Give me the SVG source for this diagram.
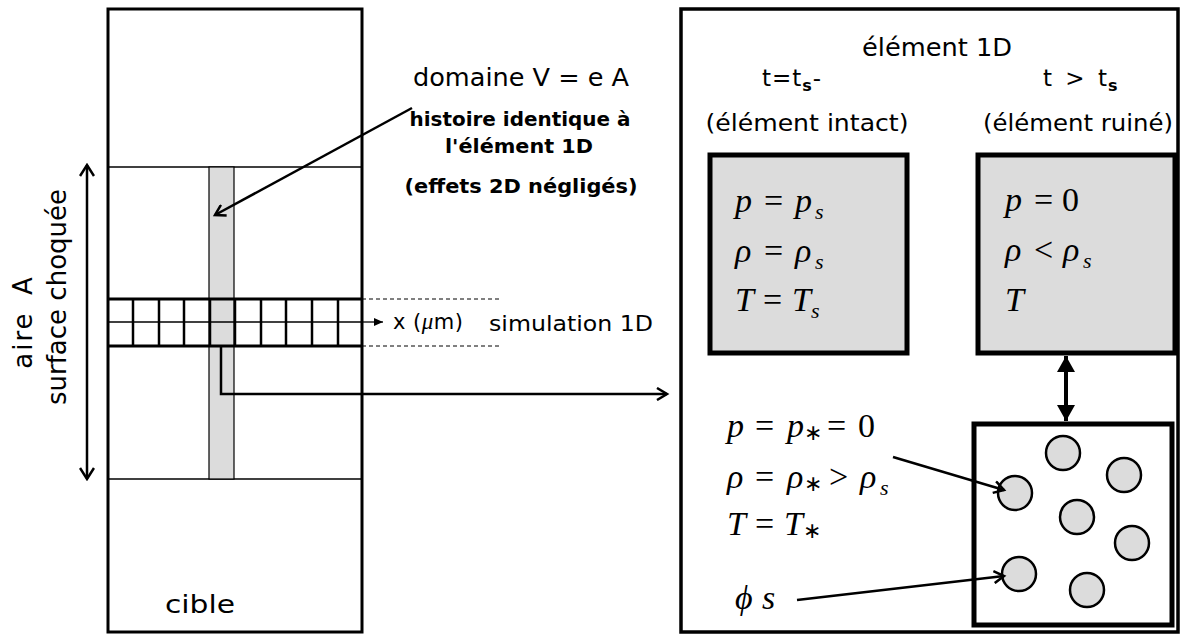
<svg xmlns="http://www.w3.org/2000/svg" width="1188" height="637" viewBox="0 0 1188 637">
<style>
.t{font-family:"DejaVu Sans",sans-serif;fill:#000}
.b{font-weight:bold}
.m{font-family:"Liberation Serif",serif;font-style:italic;font-size:34px;fill:#000}
.n{font-style:normal}
.sub{font-size:22px}
.thin{stroke:#000;stroke-width:1.3;fill:none}
.thick{stroke:#000;stroke-width:3;fill:none}
.conn{stroke:#000;stroke-width:2.5;fill:none}
</style>
<defs>
<marker id="open" markerWidth="14" markerHeight="14" refX="11" refY="7" orient="auto" markerUnits="userSpaceOnUse">
<path d="M1,1 L11,7 L1,13" fill="none" stroke="#000" stroke-width="2.5"/>
</marker>
<marker id="openS" markerWidth="14" markerHeight="16" refX="12" refY="8" orient="auto-start-reverse" markerUnits="userSpaceOnUse">
<path d="M1,1 L12,8 L1,15" fill="none" stroke="#000" stroke-width="2.5"/>
</marker>
<marker id="tri" markerWidth="10" markerHeight="10" refX="9" refY="5" orient="auto" markerUnits="userSpaceOnUse">
<path d="M0,1 L9,5 L0,9 Z" fill="#000"/>
</marker>
<marker id="big" markerWidth="20" markerHeight="20" refX="16" refY="10" orient="auto-start-reverse" markerUnits="userSpaceOnUse">
<path d="M0,1 L16,10 L0,19 Z" fill="#000"/>
</marker>
</defs>

<g id="cible">
<rect x="108" y="9" width="254" height="623" fill="#fff" stroke="#000" stroke-width="3"/>
<line class="thin" x1="109" y1="167" x2="361" y2="167"/>
<line class="thin" x1="109" y1="479" x2="361" y2="479"/>
<rect x="209" y="167" width="25" height="312" fill="#dcdcdc" stroke="#000" stroke-width="1.2"/>
<text class="t" x="200" y="613" font-size="25" text-anchor="middle" textLength="70" lengthAdjust="spacingAndGlyphs">cible</text>
</g>

<g id="grille">
<line class="thick" x1="108" y1="299" x2="362" y2="299"/>
<line class="thick" x1="108" y1="346" x2="362" y2="346"/>
<line class="thin" x1="108" y1="322" x2="362" y2="322"/>
<g stroke="#000" stroke-width="2.5">
<line x1="133" y1="299" x2="133" y2="346"/>
<line x1="159" y1="299" x2="159" y2="346"/>
<line x1="184" y1="299" x2="184" y2="346"/>
<line x1="210" y1="299" x2="210" y2="346"/>
<line x1="235" y1="299" x2="235" y2="346"/>
<line x1="261" y1="299" x2="261" y2="346"/>
<line x1="286" y1="299" x2="286" y2="346"/>
<line x1="312" y1="299" x2="312" y2="346"/>
<line x1="338" y1="299" x2="338" y2="346"/>
</g>
<line x1="362" y1="299" x2="500" y2="299" stroke="#000" stroke-width="1" stroke-dasharray="4,3"/>
<line x1="362" y1="346" x2="500" y2="346" stroke="#000" stroke-width="1" stroke-dasharray="4,3"/>
<text class="t" x="393" y="329" font-size="21" letter-spacing="0.5">x (<tspan font-family="Liberation Serif" font-style="italic" font-size="23">μ</tspan>m)</text>
<text class="t" x="489" y="331" font-size="21" textLength="164" lengthAdjust="spacingAndGlyphs">simulation 1D</text>
</g>

<g id="aire">
<text class="t" transform="translate(32,322) rotate(-90)" font-size="26" text-anchor="middle" letter-spacing="2" word-spacing="6">aire A</text>
<text class="t" transform="translate(66,297) rotate(-90)" font-size="26" text-anchor="middle">surface choquée</text>
</g>

<g id="domaine">
<text class="t" x="521" y="86" font-size="24" text-anchor="middle" textLength="216" lengthAdjust="spacingAndGlyphs">domaine V = e A</text>
<text class="t b" x="520" y="126" font-size="19" text-anchor="middle" textLength="221" lengthAdjust="spacingAndGlyphs">histoire identique à</text>
<text class="t b" x="519" y="153" font-size="19" text-anchor="middle" textLength="148" lengthAdjust="spacingAndGlyphs">l'élément 1D</text>
<text class="t b" x="521" y="193" font-size="19" text-anchor="middle" textLength="233" lengthAdjust="spacingAndGlyphs">(effets 2D négligés)</text>
</g>

<g id="element1D">
<rect x="681" y="9" width="497" height="623" fill="#fff" stroke="#000" stroke-width="3.5"/>
<text class="t" x="937" y="56" font-size="25" text-anchor="middle" textLength="150" lengthAdjust="spacingAndGlyphs">élément 1D</text>
<text class="t" x="762" y="86" font-size="23" letter-spacing="1">t=t<tspan font-size="16" dy="5" font-weight="bold">s</tspan><tspan dy="-5">-</tspan></text>
<text class="t" x="1043" y="86" font-size="23" letter-spacing="1" word-spacing="4">t &gt; t<tspan font-size="16" dy="5" font-weight="bold">s</tspan></text>
<text class="t" x="807" y="131" font-size="23" text-anchor="middle" textLength="203" lengthAdjust="spacingAndGlyphs">(élément intact)</text>
<text class="t" x="1078" y="131" font-size="23" text-anchor="middle" textLength="190" lengthAdjust="spacingAndGlyphs">(élément ruiné)</text>
</g>

<g id="intact">
<rect x="710" y="155" width="197" height="198" fill="#dcdcdc" stroke="#000" stroke-width="5"/>
<text class="m" y="212"><tspan x="735">p</tspan><tspan class="n" x="764">=</tspan><tspan x="795">p</tspan><tspan class="sub" x="815" dy="7">s</tspan></text>
<text class="m" y="262"><tspan x="735">ρ</tspan><tspan class="n" x="764">=</tspan><tspan x="795">ρ</tspan><tspan class="sub" x="815" dy="7">s</tspan></text>
<text class="m" y="311"><tspan x="735">T</tspan><tspan class="n" x="763">=</tspan><tspan x="792">T</tspan><tspan class="sub" x="811" dy="7">s</tspan></text>
</g>

<g id="ruine">
<rect x="978" y="155" width="197" height="198" fill="#dcdcdc" stroke="#000" stroke-width="5"/>
<text class="m" y="211"><tspan x="1005">p</tspan><tspan class="n" x="1034">=</tspan><tspan class="n" x="1062">0</tspan></text>
<text class="m" y="261"><tspan x="1005">ρ</tspan><tspan class="n" x="1034">&lt;</tspan><tspan x="1063">ρ</tspan><tspan class="sub" x="1083" dy="7">s</tspan></text>
<text class="m" y="311"><tspan x="1005">T</tspan></text>
</g>

<g id="etoile">
<rect x="974" y="424" width="198" height="201" fill="#fff" stroke="#000" stroke-width="5"/>
<g fill="#dcdcdc" stroke="#000" stroke-width="2.5">
<circle cx="1063" cy="453" r="17"/>
<circle cx="1124" cy="475" r="17"/>
<circle cx="1015" cy="493" r="17"/>
<circle cx="1077" cy="517" r="17"/>
<circle cx="1132" cy="543" r="17"/>
<circle cx="1019" cy="574" r="17"/>
<circle cx="1087" cy="590" r="17"/>
</g>
</g>

<g id="etat-etoile">
<text class="m" y="437"><tspan x="727">p</tspan><tspan class="n" x="755">=</tspan><tspan x="787">p</tspan><tspan class="n sub" x="804" dy="3">∗</tspan><tspan class="n" x="827" dy="-3">=</tspan><tspan class="n" x="858">0</tspan></text>
<text class="m" y="488"><tspan x="727">ρ</tspan><tspan class="n" x="755">=</tspan><tspan x="787">ρ</tspan><tspan class="n sub" x="804" dy="3">∗</tspan><tspan class="n" x="829" dy="-3">&gt;</tspan><tspan x="860">ρ</tspan><tspan class="sub" x="880" dy="7">s</tspan></text>
<text class="m" y="535"><tspan x="727">T</tspan><tspan class="n" x="755">=</tspan><tspan x="784">T</tspan><tspan class="n sub" x="803" dy="3">∗</tspan></text>
<text class="m" y="609"><tspan x="735">ϕ</tspan><tspan x="762">s</tspan></text>
</g>

<g id="connecteurs">
<line class="conn" x1="87" y1="165" x2="87" y2="479" marker-start="url(#openS)" marker-end="url(#openS)"/>
<line class="conn" x1="412" y1="108" x2="215" y2="215" marker-end="url(#open)"/>
<line x1="362" y1="322" x2="383" y2="322" stroke="#000" stroke-width="1.3" marker-end="url(#tri)"/>
<polyline class="conn" points="221,346 221,394 667,394" marker-end="url(#open)"/>
<line stroke="#000" stroke-width="4" x1="1066" y1="356" x2="1066" y2="421" marker-start="url(#big)" marker-end="url(#big)"/>
<line class="conn" x1="893" y1="457" x2="1004" y2="490" marker-end="url(#open)"/>
<line class="conn" x1="797" y1="600" x2="1004" y2="576" marker-end="url(#open)"/>
</g>
</svg>
